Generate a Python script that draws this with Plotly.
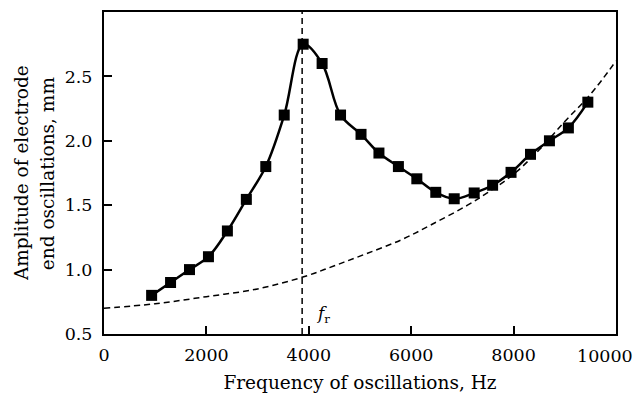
import plotly.graph_objects as go

freq_hz = [930, 1300, 1670, 2040, 2410, 2780, 3160, 3520, 3890, 4260, 4620, 5020,
           5370, 5750, 6110, 6480, 6840, 7230, 7590, 7950, 8330, 8700, 9070, 9450]
amp_mm = [0.80, 0.90, 1.00, 1.10, 1.30, 1.545, 1.80, 2.20, 2.75, 2.60, 2.20, 2.05,
          1.905, 1.80, 1.705, 1.60, 1.55, 1.595, 1.655, 1.755, 1.895, 2.00, 2.10, 2.30]

# dashed background curve
bg_freq = [0, 1000, 2000, 3000, 3900, 4500, 5100, 5800, 6400, 7100, 7500, 8000,
           8500, 9000, 9500, 10000]
bg_amp = [0.70, 0.735, 0.79, 0.85, 0.944, 1.03, 1.12, 1.23, 1.35, 1.50, 1.60, 1.74,
          1.93, 2.15, 2.36, 2.62]

f_res = 3870
x_ticks = [0, 2000, 4000, 6000, 8000, 10000]
y_ticks = [0.5, 1.0, 1.5, 2.0, 2.5]

FONT = "DejaVu Serif"
TICK_SIZE = 17.5
TITLE_SIZE = 18.5

fig = go.Figure()
fig.add_trace(go.Scatter(x=bg_freq, y=bg_amp, mode="lines",
                         line=dict(color="black", width=1.5, dash="6px,4px", shape="spline"),
                         showlegend=False, hoverinfo="skip"))
fig.add_trace(go.Scatter(x=freq_hz, y=amp_mm, mode="lines+markers",
                         line=dict(color="black", width=2.5, shape="spline", smoothing=1.0),
                         marker=dict(symbol="square", size=11, color="black"),
                         showlegend=False))
fig.add_trace(go.Scatter(x=[f_res, f_res], y=[0.5, 3.0], mode="lines",
                         line=dict(color="black", width=1.5, dash="6px,4px"),
                         showlegend=False, hoverinfo="skip"))

fig.add_annotation(x=f_res, y=0.55, xref="x", yref="y", text="<i>f</i><sub>r</sub>",
                   showarrow=False, xanchor="left", yanchor="bottom", xshift=12,
                   font=dict(family=FONT, size=17, color="black"))

# last x tick label, kept inside the page as in the original
fig.add_annotation(x=x_ticks[-1], y=0, xref="x", yref="paper", text=str(x_ticks[-1]),
                   showarrow=False, xanchor="right", yanchor="top", xshift=19, yshift=-10,
                   font=dict(family=FONT, size=TICK_SIZE, color="black"))

# y-axis title (two lines)
fig.add_annotation(x=-0.162, y=0.5, xref="paper", yref="paper", text="Amplitude of electrode",
                   textangle=-90, showarrow=False, xanchor="center", yanchor="middle",
                   font=dict(family=FONT, size=TITLE_SIZE, color="black"))
fig.add_annotation(x=-0.111, y=0.5, xref="paper", yref="paper", text="end oscillations, mm",
                   textangle=-90, showarrow=False, xanchor="center", yanchor="middle",
                   font=dict(family=FONT, size=TITLE_SIZE, color="black"))

fig.update_layout(
    width=634, height=396,
    margin=dict(l=104, r=18, t=12, b=62),
    paper_bgcolor="white", plot_bgcolor="white",
    font=dict(family=FONT, size=TICK_SIZE, color="black"),
    xaxis=dict(range=[0, 10000], tickvals=x_ticks[:-1],
               ticktext=[str(v) for v in x_ticks[:-1]],
               ticks="inside", ticklen=8, tickwidth=1.5, tickcolor="black",
               ticklabelstandoff=4, automargin=False,
               showline=True, linewidth=2, linecolor="black", mirror=True,
               showgrid=False, zeroline=False,
               title=dict(text="Frequency of oscillations, Hz",
                          font=dict(family=FONT, size=TITLE_SIZE), standoff=12)),
    yaxis=dict(range=[0.5, 3.0], tickvals=y_ticks, ticktext=[f"{v:.1f}" for v in y_ticks],
               ticks="inside", ticklen=8, tickwidth=1.5, tickcolor="black",
               ticklabelstandoff=6, automargin=False,
               showline=True, linewidth=2, linecolor="black", mirror=True,
               showgrid=False, zeroline=False),
)

fig.write_html("out.html")
